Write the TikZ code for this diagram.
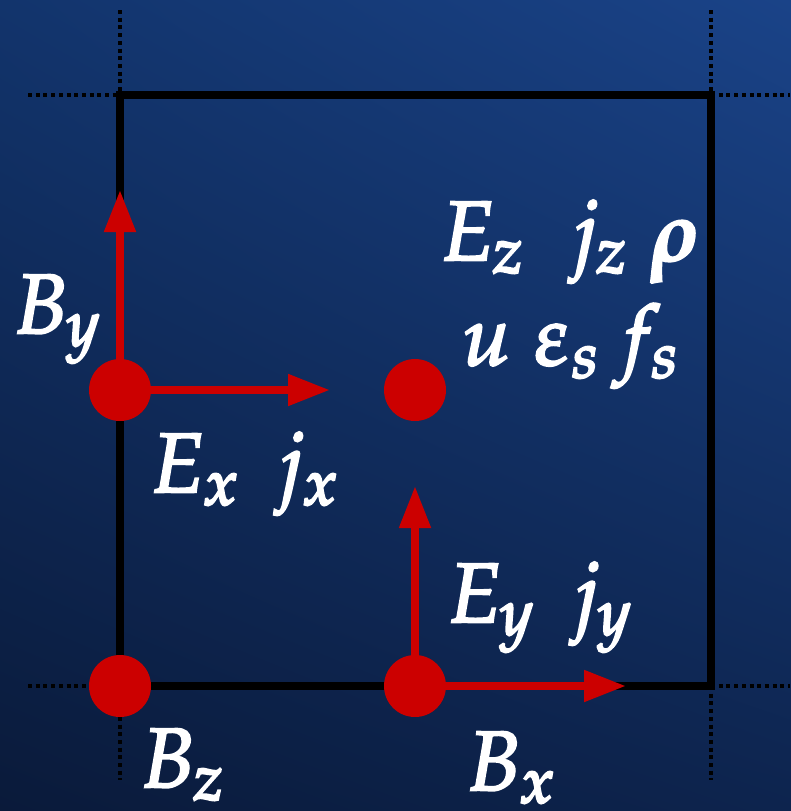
\documentclass[tikz,border=0pt]{standalone}
\usepackage{mathpazo}
\usepackage{bm}
\usetikzlibrary{arrows.meta,shadings}
\DeclareMathSizes{84}{84}{64}{50}
\definecolor{cred}{HTML}{CC0000}
\definecolor{bgTL}{HTML}{12346C}
\definecolor{bgTR}{HTML}{1A4388}
\definecolor{bgBL}{HTML}{0A1A3A}
\definecolor{bgBR}{HTML}{0D244E}
\newcommand\heavytext[1]{\special{pdf:literal direct 2 Tr 2.4 w 1 1 1 RG}#1\special{pdf:literal direct 0 Tr 0 w}}
\tikzset{
  frame/.style={line width=7.5pt, line cap=rect, black},
  dotline/.style={line width=4pt, black, dash pattern=on 4pt off 3.7pt},
  dotnode/.style={circle, fill=cred, draw=none, minimum size=62pt, inner sep=0pt},
  vec/.style={line width=8pt, cred, -{Triangle[length=42pt,width=30pt]}},
  lbl/.style={anchor=base west, inner sep=0pt, text=white, font=\fontsize{84}{100}\selectfont}
}
\begin{document}
\begin{tikzpicture}[x=1pt,y=-1pt]
\useasboundingbox (0,0) rectangle (791,811);
\shade[upper left=bgTL, upper right=bgTR, lower left=bgBL, lower right=bgBR] (0,0) rectangle (791,811);
% dotted extensions
\coordinate (c00) at (120,95);
\coordinate (c10) at (711,95);
\coordinate (c01) at (120,686);
\coordinate (c11) at (711,686);
\draw[dotline] (120,10) -- (c00);
\draw[dotline] (28,95) -- (c00);
\draw[dotline] (711,10) -- (c10);
\draw[dotline] (c10) -- (790,95);
\draw[dotline] (c01) -- (120,780);
\draw[dotline] (28,686) -- (c01);
\draw[dotline] (c11) -- (711,780);
\draw[dotline] (c11) -- (790,686);
% frame
\draw[frame] (c00) -- (c10) -- (c11) -- (c01) -- cycle;
% arrows
\coordinate (a1) at (120,190);
\coordinate (a2) at (330,390);
\coordinate (a3) at (415,486);
\coordinate (a4) at (626,686);
\coordinate (p1) at (120,390);
\coordinate (p3) at (415,686);
\draw[vec] (p1) -- (a1);
\draw[vec] (p1) -- (a2);
\draw[vec] (p3) -- (a3);
\draw[vec] (p3) -- (a4);
% dots
\node[dotnode] (d1) at (120,390) {};
\node[dotnode] (d2) at (415,390) {};
\node[dotnode] (d3) at (120,686) {};
\node[dotnode] (d4) at (415,686) {};
% labels
\node[lbl] (by) at (13,333) {\heavytext{$B_y$}};
\node[lbl] (ez) at (440,260) {\heavytext{$E_z\;\; j_z\;\bm{\rho}$}};
\node[lbl] (ue) at (462,365) {\heavytext{$u\; \varepsilon_s\, f_s$}};
\node[lbl] (ex) at (150,492) {\heavytext{$E_x\;\, j_x$}};
\node[lbl] (ey) at (447,622) {\heavytext{$E_y\;\, j_y$}};
\node[lbl] (bz) at (140,787) {\heavytext{$B_z$}};
\node[lbl] (bx) at (466,790) {\heavytext{$B_x$}};
\end{tikzpicture}
\end{document}
